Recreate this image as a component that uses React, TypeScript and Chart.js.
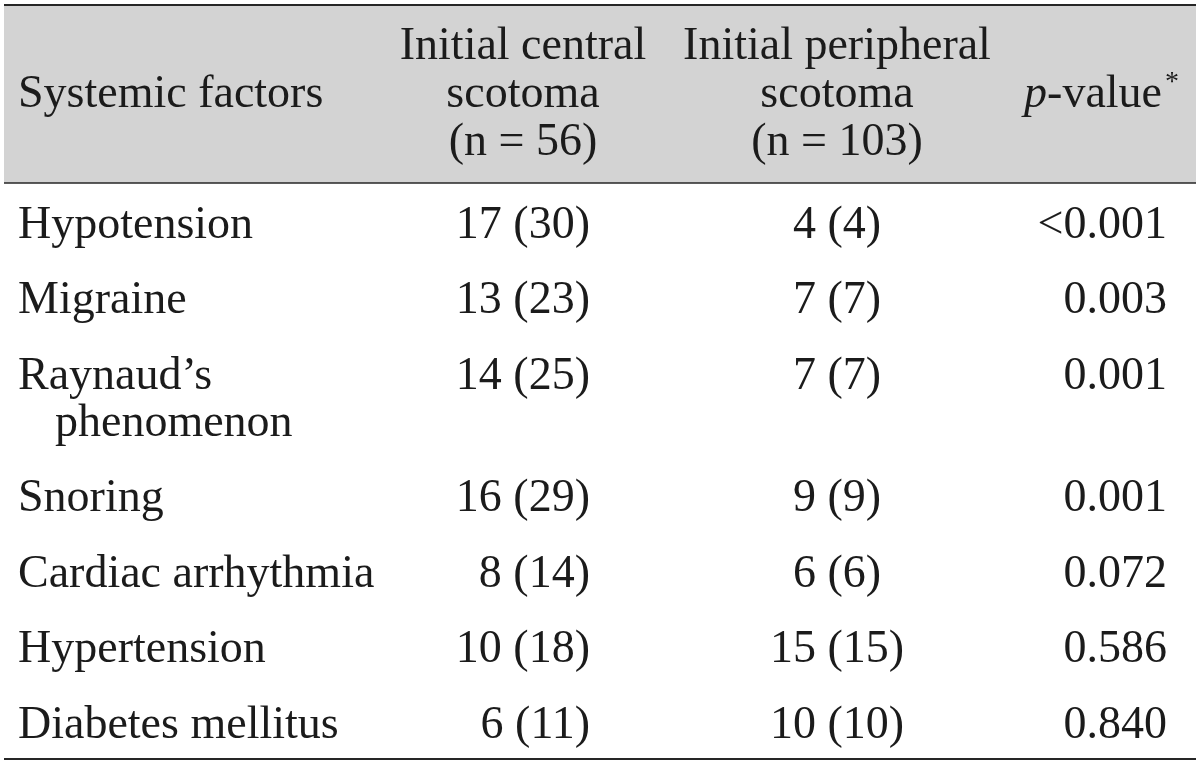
import React, { useEffect, useRef } from "react";
import { Chart, registerables } from "chart.js";

Chart.register(...registerables);

// ---- Data ----
const headerFactor: string[] = ["Systemic factors"];
const headerCentral: string[] = ["Initial central", "scotoma", "(n = 56)"];
const headerPeripheral: string[] = ["Initial peripheral", "scotoma", "(n = 103)"];
const headerPValue = { italic: "p", rest: "-value", sup: "*" };

const factors: string[][] = [
  ["Hypotension"],
  ["Migraine"],
  ["Raynaud\u2019s", "phenomenon"],
  ["Snoring"],
  ["Cardiac arrhythmia"],
  ["Hypertension"],
  ["Diabetes mellitus"],
];
const centralN: number[] = [17, 13, 14, 16, 8, 10, 6];
const centralPct: number[] = [30, 23, 25, 29, 14, 18, 11];
const peripheralN: number[] = [4, 7, 7, 9, 6, 15, 10];
const peripheralPct: number[] = [4, 7, 7, 9, 6, 15, 10];
const pValues: string[] = ["<0.001", "0.003", "0.001", "0.001", "0.072", "0.586", "0.840"];

// ---- Layout (style constants) ----
const W = 1200;
const H = 765;
const FONT = "'Liberation Serif', 'Times New Roman', Times, serif";
const FS = 46;
const LINE = 47; // line spacing inside a cell
const ROW = 75.5; // row pitch
const FIRST_BASE = 237.5; // baseline of first body row
const HEADER_MID_BASE = 107;
const HEADER_LINE = 48;
const TOP_RULE = 5;
const HEAD_RULE = 183;
const BOTTOM_RULE = 759;
const LEFT = 4;
const RIGHT = 1196;
const COL1_X = 18;
const COL1_INDENT = 37;
const COL2_HEAD_X = 523;
const COL2_RIGHT = 590;
const COL3_X = 837;
const COL4_RIGHT = 1167;
const COL4_HEAD_RIGHT = 1162;
const TEXT = "#1b1b1b";
const RULE = "#262626";
const HEAD_BG = "#d3d3d3";

// y-values (in the y scale's units) of each body row, built from the row index
const rowY: number[] = [];
{
  let extra = 0;
  factors.forEach((f, i) => {
    rowY.push(FIRST_BASE + ROW * i + extra);
    extra += (f.length - 1) * LINE;
  });
}

const tablePlugin = {
  id: "tablePlugin",
  beforeDraw(chart: any) {
    const { ctx } = chart;
    const xs = chart.scales.x;
    const ys = chart.scales.y;
    const px = (v: number) => xs.getPixelForValue(v);
    const py = (v: number) => ys.getPixelForValue(v);
    ctx.save();
    ctx.fillStyle = "#ffffff";
    ctx.fillRect(0, 0, chart.width, chart.height);
    ctx.fillStyle = HEAD_BG;
    ctx.fillRect(px(LEFT), py(TOP_RULE), px(RIGHT) - px(LEFT), py(HEAD_RULE) - py(TOP_RULE));
    ctx.strokeStyle = RULE;
    const rule = (y: number, w: number) => {
      ctx.lineWidth = w;
      ctx.beginPath();
      ctx.moveTo(px(LEFT), py(y));
      ctx.lineTo(px(RIGHT), py(y));
      ctx.stroke();
    };
    rule(TOP_RULE, 2);
    rule(HEAD_RULE, 1.6);
    rule(BOTTOM_RULE, 2);
    ctx.restore();
  },
  afterDatasetsDraw(chart: any) {
    const { ctx } = chart;
    const xs = chart.scales.x;
    const ys = chart.scales.y;
    const px = (v: number) => xs.getPixelForValue(v);
    const py = (v: number) => ys.getPixelForValue(v);
    ctx.save();
    ctx.fillStyle = TEXT;
    ctx.textBaseline = "alphabetic";
    const normal = `${FS}px ${FONT}`;
    ctx.font = normal;

    // Header
    ctx.textAlign = "left";
    headerFactor.forEach((t, i) => ctx.fillText(t, px(COL1_X), py(HEADER_MID_BASE + i * HEADER_LINE)));
    ctx.textAlign = "center";
    headerCentral.forEach((t, i) =>
      ctx.fillText(t, px(COL2_HEAD_X), py(HEADER_MID_BASE + (i - 1) * HEADER_LINE))
    );
    headerPeripheral.forEach((t, i) =>
      ctx.fillText(t, px(COL3_X), py(HEADER_MID_BASE + (i - 1) * HEADER_LINE))
    );
    // p-value*
    ctx.textAlign = "left";
    ctx.font = normal;
    const restW = ctx.measureText(headerPValue.rest).width;
    ctx.font = `italic ${FS}px ${FONT}`;
    const pW = ctx.measureText(headerPValue.italic).width;
    const startX = px(COL4_HEAD_RIGHT) - restW - pW;
    ctx.fillText(headerPValue.italic, startX, py(HEADER_MID_BASE));
    ctx.font = normal;
    ctx.fillText(headerPValue.rest, startX + pW, py(HEADER_MID_BASE));
    ctx.font = `${Math.round(FS * 0.6)}px ${FONT}`;
    ctx.fillText(headerPValue.sup, startX + pW + restW + 3, py(HEADER_MID_BASE - 17));

    // Body, anchored at the dataset points
    ctx.font = normal;
    const meta = chart.getDatasetMeta(0);
    meta.data.forEach((pt: any, i: number) => {
      const y = pt.y;
      ctx.textAlign = "left";
      factors[i].forEach((t, k) =>
        ctx.fillText(t, px(COL1_X + (k > 0 ? COL1_INDENT : 0)), y + k * (py(LINE) - py(0)))
      );
      ctx.textAlign = "right";
      ctx.fillText(`${centralN[i]} (${centralPct[i]})`, px(COL2_RIGHT), y);
      ctx.textAlign = "center";
      ctx.fillText(`${peripheralN[i]} (${peripheralPct[i]})`, px(COL3_X), y);
      ctx.textAlign = "right";
      ctx.fillText(pValues[i], px(COL4_RIGHT), y);
    });
    ctx.restore();
  },
};

export default function App() {
  const ref = useRef<HTMLCanvasElement | null>(null);
  useEffect(() => {
    document.body.style.margin = "0";
    const canvas = ref.current;
    if (!canvas) return;
    const chart = new Chart(canvas, {
      type: "scatter",
      data: {
        datasets: [
          {
            label: "rows",
            data: rowY.map((y) => ({ x: COL1_X, y })),
            pointRadius: 0,
            pointHoverRadius: 0,
            showLine: false,
          },
        ],
      },
      options: {
        animation: false,
        responsive: true,
        maintainAspectRatio: false,
        events: [],
        layout: { padding: 0 },
        plugins: { legend: { display: false }, tooltip: { enabled: false }, title: { display: false } },
        scales: {
          x: { type: "linear", min: 0, max: W, display: false },
          y: { type: "linear", min: 0, max: H, reverse: true, display: false },
        },
      },
      plugins: [tablePlugin],
    });
    return () => chart.destroy();
  }, []);
  return (
    <div style={{ position: "absolute", left: 0, top: 0, width: W, height: H, background: "#fff" }}>
      <canvas ref={ref} width={W} height={H} />
    </div>
  );
}
